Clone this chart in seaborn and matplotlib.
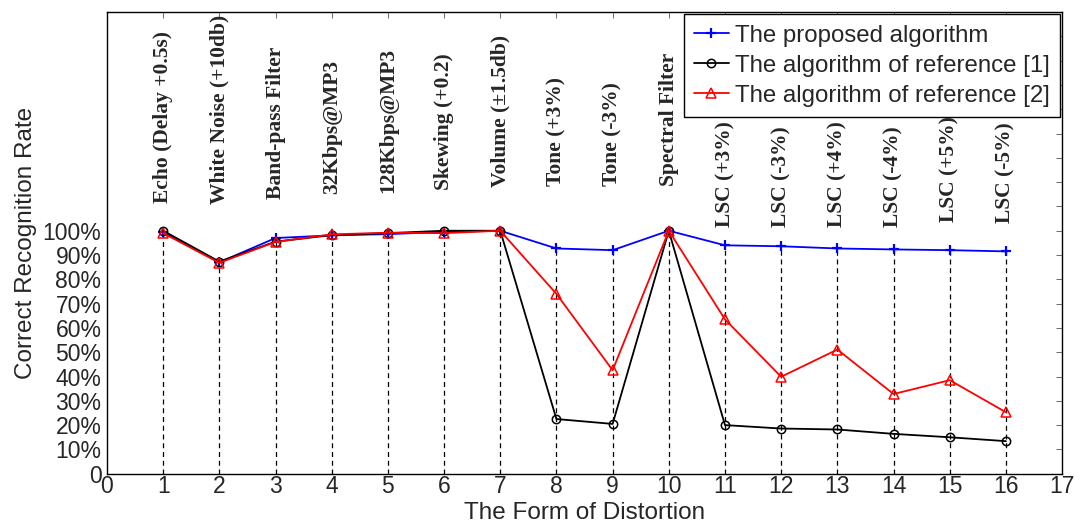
import numpy as np
import pandas as pd
import matplotlib
matplotlib.use("Agg")
import matplotlib.pyplot as plt
import seaborn as sns

# data
positions = list(range(1, 17))
distortions = ['Echo (Delay +0.5s)', 'White Noise (+10db)', 'Band-pass Filter',
               '32Kbps@MP3', '128Kbps@MP3', 'Skewing (+0.2)', 'Volume (\u00b11.5db)',
               'Tone (+3%)', 'Tone (-3%)', 'Spectral Filter',
               'LSC (+3%)', 'LSC (-3%)', 'LSC (+4%)', 'LSC (-4%)', 'LSC (+5%)', 'LSC (-5%)']
proposed = [0.995, 0.870, 0.970, 0.981, 0.986, 0.995, 1.000, 0.927, 0.920, 1.000,
            0.940, 0.936, 0.927, 0.923, 0.920, 0.915]
reference1 = [1.000, 0.873, 0.955, 0.982, 0.990, 1.000, 1.000, 0.225, 0.205, 1.000,
              0.200, 0.186, 0.182, 0.164, 0.150, 0.134]
reference2 = [0.990, 0.868, 0.954, 0.985, 0.992, 0.990, 1.000, 0.740, 0.426, 1.000,
              0.635, 0.399, 0.511, 0.328, 0.385, 0.253]
series_names = ['The proposed algorithm', 'The algorithm of reference [1]',
                'The algorithm of reference [2]']

# where the rotated labels sit (bottom of text, in data units)
label_base = [1.114, 1.11, 1.13, 1.152, 1.155, 1.166, 1.18, 1.186, 1.186, 1.185,
              1.015, 1.015, 1.015, 1.015, 1.034, 1.03]

sns.set_style("white")
plt.rcParams['font.family'] = ['Liberation Sans', 'DejaVu Sans']
plt.rcParams['xtick.direction'] = 'in'
plt.rcParams['ytick.direction'] = 'in'

df = pd.DataFrame({'x': positions, 'p': proposed, 'r1': reference1, 'r2': reference2})

fig = plt.figure(figsize=(10.75, 5.26), dpi=100)
ax = fig.add_axes([0.0995, 0.0994, 0.8885, 0.8777])

# dashed guide lines from 0 up to the highest point
tops = df[['p', 'r1', 'r2']].max(axis=1)
ax.vlines(df['x'], 0, tops, colors='black', linestyles=(0, (4, 3)), linewidth=0.9, zorder=1)

sns.lineplot(data=df, x='x', y='p', ax=ax, color='blue', marker='+', markersize=7,
             markeredgecolor='blue', markeredgewidth=1.6, linewidth=1.3,
             label=series_names[0], zorder=3)
sns.lineplot(data=df, x='x', y='r1', ax=ax, color='black', marker='o', markersize=6,
             markerfacecolor='none', markeredgecolor='black', markeredgewidth=1.1,
             linewidth=1.3, label=series_names[1], zorder=4)
sns.lineplot(data=df, x='x', y='r2', ax=ax, color='red', marker='^', markersize=7,
             markerfacecolor='none', markeredgecolor='red', markeredgewidth=1.1,
             linewidth=1.3, label=series_names[2], zorder=5)

for xi, name, yb in zip(positions, distortions, label_base):
    ax.text(xi, yb, name, rotation=90, ha='center', va='bottom',
            fontsize=15.5, fontweight='bold', family=['Liberation Serif', 'DejaVu Serif'])

ax.set_xlim(0, 17)
ax.set_ylim(0, 1.9)
ax.set_xticks(range(0, 18))
yt = np.round(np.arange(0, 1.91, 0.1), 2)
ax.set_yticks(yt)
ax.set_yticklabels(['0' if v == 0 else (f'{int(round(v * 100))}%' if v <= 1.0 else '') for v in yt])
ax.tick_params(axis='both', labelsize=16.5, length=4, width=0.6, top=True, right=True,
               color='#555555')
ax.tick_params(axis='x', pad=1)
ax.tick_params(axis='y', pad=4)
for s in ax.spines.values():
    s.set_color('black')
    s.set_linewidth(1.0)

ax.set_xlabel('The Form of Distortion', fontsize=17.5)
ax.xaxis.set_label_coords(0.5, -0.062)
ax.set_ylabel('Correct Recognition Rate', fontsize=17.5, labelpad=4)

leg = ax.legend(loc='upper right', fontsize=17.3, frameon=True, fancybox=False,
                edgecolor='black', borderpad=0.42, labelspacing=0.34, handlelength=1.45,
                handletextpad=0.25, borderaxespad=0.1)
leg.get_frame().set_linewidth(1.0)
leg.get_frame().set_alpha(1)

fig.savefig('out.png', dpi=100)
